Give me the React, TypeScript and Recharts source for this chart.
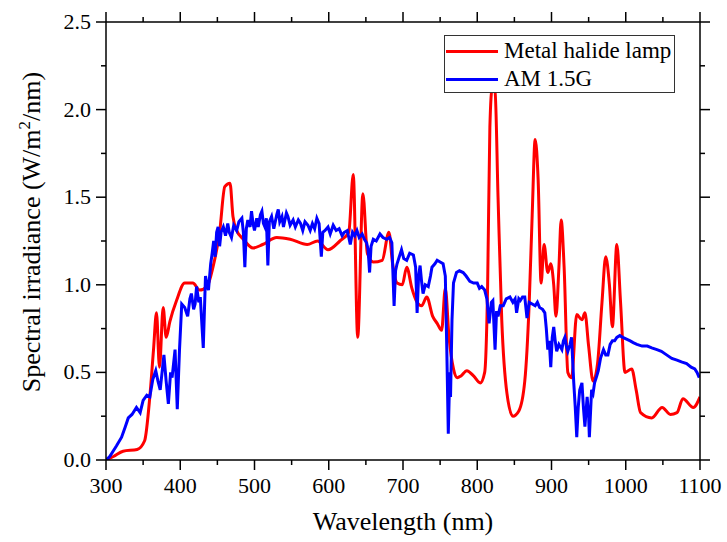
import { LineChart, Line, XAxis, YAxis, Legend } from 'recharts'

const FONT = "'Liberation Serif', 'Times New Roman', Times, serif"
const RED = '#ff0000'
const BLUE = '#0000ff'

// metal halide lamp spectrum: [wavelength nm, irradiance W/m2/nm]
const lampSpectrum: [number, number][] = [
  [300, 0], [305, 0.01], [310, 0.02], [323, 0.05], [342, 0.06], [352, 0.11], [359, 0.36], [364, 0.63],
  [368, 0.84], [372, 0.53], [377, 0.87], [381, 0.7], [386, 0.79], [395, 0.91], [406, 1.01], [417, 1.01],
  [426, 0.97], [436, 0.99], [444, 1.1], [453, 1.3], [460, 1.56], [467, 1.58], [471, 1.39], [476, 1.31],
  [485, 1.26], [498, 1.21], [511, 1.23], [530, 1.27], [548, 1.26], [571, 1.23], [585, 1.25], [599, 1.2],
  [615, 1.25], [627, 1.3], [633, 1.63], [639, 0.7], [646, 1.52], [652, 1.18], [660, 1.13], [672, 1.14],
  [681, 1.3], [686, 1.12], [692, 1.01], [699, 1.0], [705, 1.1], [712, 0.98], [719, 0.9], [725, 0.88],
  [732, 0.93], [740, 0.82], [746, 0.78], [752, 0.74], [757, 0.98], [762, 0.7], [768, 0.52], [773, 0.47],
  [778, 0.48], [786, 0.51], [795, 0.48], [804, 0.44], [810, 0.5], [814, 1.0], [817, 1.9], [820, 2.12],
  [824, 2.1], [828, 1.5], [833, 0.8], [840, 0.38], [848, 0.25], [856, 0.28], [864, 0.45], [870, 0.9],
  [874, 1.4], [878, 1.83], [882, 1.6], [886, 1.01], [890, 1.23], [895, 1.07], [899, 1.12], [903, 1.0],
  [906, 0.82], [910, 1.1], [913, 1.37], [917, 1.1], [922, 0.5], [927, 0.47], [934, 0.83], [941, 0.8],
  [945, 0.84], [950, 0.65], [956, 0.45], [962, 0.55], [968, 0.9], [973, 1.16], [978, 1.0], [982, 0.76],
  [988, 1.23], [993, 0.9], [999, 0.5], [1008, 0.52], [1014, 0.4], [1020, 0.27], [1035, 0.24], [1049, 0.3],
  [1060, 0.26], [1069, 0.27], [1077, 0.35], [1091, 0.3], [1100, 0.36],
]

// AM 1.5G reference solar spectrum
const sunSpectrum: [number, number][] = [
  [300, 0], [305, 0.02], [314, 0.08], [321, 0.13], [326, 0.19], [330, 0.24], [335, 0.26], [341, 0.3],
  [346, 0.27], [350, 0.34], [355, 0.37], [359, 0.36], [363, 0.46], [367, 0.51], [370, 0.45], [373, 0.4],
  [378, 0.6], [381, 0.45], [384, 0.32], [387, 0.5], [389, 0.47], [393, 0.63], [396, 0.29], [399, 0.63],
  [402, 0.89], [406, 0.87], [410, 0.82], [413, 0.92], [415, 0.95], [418, 0.86], [420, 0.89], [422, 0.99],
  [425, 0.9], [427, 0.93], [431, 0.64], [434, 1.05], [436, 1.0], [438, 0.97], [441, 1.12], [443, 1.18],
  [445, 1.25], [447, 1.16], [449, 1.3], [451, 1.33], [453, 1.22], [455, 1.3], [458, 1.33], [461, 1.28],
  [464, 1.35], [466, 1.3], [469, 1.27], [472, 1.34], [476, 1.31], [479, 1.36], [483, 1.38], [485, 1.3],
  [487, 1.1], [489, 1.32], [491, 1.37], [494, 1.33], [496, 1.42], [498, 1.35], [500, 1.31], [503, 1.38],
  [505, 1.33], [508, 1.4], [510, 1.42], [512, 1.35], [514, 1.33], [516, 1.38], [518, 1.11], [520, 1.36],
  [523, 1.39], [526, 1.32], [528, 1.36], [530, 1.4], [532, 1.43], [534, 1.36], [537, 1.39], [539, 1.33],
  [541, 1.37], [543, 1.41], [545, 1.39], [548, 1.34], [552, 1.37], [555, 1.33], [559, 1.37], [562, 1.35],
  [565, 1.31], [568, 1.36], [572, 1.34], [575, 1.31], [578, 1.35], [581, 1.32], [584, 1.38], [587, 1.35],
  [590, 1.16], [592, 1.3], [595, 1.31], [599, 1.33], [602, 1.29], [606, 1.34], [610, 1.31], [614, 1.32],
  [618, 1.28], [621, 1.3], [625, 1.31], [627, 1.27], [629, 1.23], [632, 1.3], [635, 1.28], [638, 1.31],
  [641, 1.27], [645, 1.29], [648, 1.26], [651, 1.24], [653, 1.2], [655, 1.07], [657, 1.22], [660, 1.26],
  [664, 1.25], [669, 1.29], [673, 1.27], [678, 1.26], [682, 1.27], [685, 1.24], [688, 0.88], [690, 1.08],
  [692, 1.12], [695, 1.16], [698, 1.2], [701, 1.15], [705, 1.14], [709, 1.18], [714, 1.17], [717, 1.1],
  [719, 0.84], [721, 1.05], [723, 1.11], [725, 1.02], [727, 0.95], [730, 1.0], [734, 0.99], [737, 1.05],
  [739, 1.1], [743, 1.12], [746, 1.14], [750, 1.13], [754, 1.12], [757, 1.05], [759, 0.63], [761, 0.15],
  [763, 0.5], [764, 0.36], [766, 0.8], [768, 1.01], [772, 1.07], [776, 1.08], [781, 1.07], [785, 1.05],
  [790, 1.02], [795, 1.01], [800, 1.01], [803, 0.98], [806, 0.99], [810, 0.97], [813, 0.92], [816, 0.78],
  [819, 0.9], [821, 0.91], [824, 0.63], [826, 0.85], [828, 0.82], [831, 0.88], [835, 0.88], [839, 0.92],
  [844, 0.93], [848, 0.9], [851, 0.92], [853, 0.84], [856, 0.92], [858, 0.91], [861, 0.93], [864, 0.93],
  [867, 0.81], [870, 0.9], [874, 0.89], [878, 0.88], [881, 0.9], [884, 0.87], [888, 0.86], [891, 0.84],
  [893, 0.75], [895, 0.63], [897, 0.68], [899, 0.53], [901, 0.7], [903, 0.76], [905, 0.68], [907, 0.62],
  [910, 0.66], [914, 0.63], [916, 0.68], [918, 0.7], [920, 0.65], [922, 0.62], [925, 0.66], [927, 0.7],
  [930, 0.44], [932, 0.3], [934, 0.13], [936, 0.3], [938, 0.4], [941, 0.44], [943, 0.3], [945, 0.19],
  [948, 0.36], [950, 0.25], [951, 0.13], [954, 0.4], [956, 0.38], [958, 0.44], [961, 0.48], [963, 0.51],
  [966, 0.58], [970, 0.63], [973, 0.6], [976, 0.6], [979, 0.66], [982, 0.68], [985, 0.68], [988, 0.7],
  [992, 0.71], [996, 0.7], [1001, 0.69], [1006, 0.68], [1010, 0.67], [1015, 0.66], [1022, 0.65], [1029, 0.65],
  [1035, 0.64], [1042, 0.63], [1048, 0.62], [1055, 0.6], [1062, 0.58], [1069, 0.57], [1075, 0.56], [1082, 0.55],
  [1088, 0.53], [1093, 0.52], [1096, 0.5], [1099, 0.47],
]

const seriesNames = ['Metal halide lamp', 'AM 1.5G']
const seriesColors = [RED, BLUE]

const xTicks = [300, 350, 400, 450, 500, 550, 600, 650, 700, 750, 800, 850, 900, 950, 1000, 1050, 1100]
const yTicks = [0, 0.25, 0.5, 0.75, 1, 1.25, 1.5, 1.75, 2, 2.25, 2.5]

const lampData = lampSpectrum.map(([nm, v]) => ({ nm, v }))
const sunData = sunSpectrum.map(([nm, v]) => ({ nm, v }))

const isMajorX = (v: number) => v % 100 === 0
const isMajorY = (v: number) => Math.abs(v * 2 - Math.round(v * 2)) < 1e-9

const textStyle = { fontFamily: FONT, fill: '#000' }

function BottomTick({ x, y, payload }: any) {
  const major = isMajorX(payload.value)
  return (
    <g>
      <line x1={x} y1={y} x2={x} y2={y + (major ? 10 : 5)} stroke="#000" strokeWidth={1.5} />
      {major && (
        <text x={x} y={y + 33} textAnchor="middle" style={{ ...textStyle, fontSize: 22 }}>
          {payload.value}
        </text>
      )}
    </g>
  )
}

function TopTick({ x, y, payload }: any) {
  const major = isMajorX(payload.value)
  return <line x1={x} y1={y} x2={x} y2={y - (major ? 10 : 5)} stroke="#000" strokeWidth={1.5} />
}

function LeftTick({ x, y, payload }: any) {
  const major = isMajorY(payload.value)
  return (
    <g>
      <line x1={x} y1={y} x2={x - (major ? 10 : 5)} y2={y} stroke="#000" strokeWidth={1.5} />
      {major && (
        <text x={x - 15} y={y + 7} textAnchor="end" style={{ ...textStyle, fontSize: 22 }}>
          {payload.value.toFixed(1)}
        </text>
      )}
    </g>
  )
}

function RightTick({ x, y, payload }: any) {
  const major = isMajorY(payload.value)
  return <line x1={x} y1={y} x2={x + (major ? 10 : 5)} y2={y} stroke="#000" strokeWidth={1.5} />
}

const xTitle = () => (
  <text x={403} y={530} textAnchor="middle" style={{ ...textStyle, fontSize: 26 }}>
    Wavelength (nm)
  </text>
)

const yTitle = () => (
  <text transform="translate(40, 232) rotate(-90)" textAnchor="middle" style={{ ...textStyle, fontSize: 26 }}>
    Spectral irradiance (W/m
    <tspan dy={-10} style={{ fontSize: 17 }}>2</tspan>
    <tspan dy={10}>/nm)</tspan>
  </text>
)

function LegendBox() {
  return (
    <div
      style={{
        width: 231,
        height: 58,
        boxSizing: 'border-box',
        border: '1px solid #333',
        background: '#fff',
        fontFamily: FONT,
        fontSize: 23,
        color: '#000',
        paddingTop: 1,
      }}
    >
      {seriesNames.map((name, i) => (
        <div key={name} style={{ display: 'flex', alignItems: 'center', height: 28 }}>
          <div style={{ width: 52, height: 3, background: seriesColors[i], marginLeft: 1, marginRight: 6 }} />
          <span style={{ lineHeight: '28px', whiteSpace: 'nowrap' }}>{name}</span>
        </div>
      ))}
    </div>
  )
}

export default function App() {
  return (
    <div style={{ position: 'absolute', left: 0, top: 0, background: '#fff' }}>
      <LineChart width={727} height={542} margin={{ top: 21, right: 26, bottom: 81, left: 105 }}>
        <XAxis
          type="number"
          dataKey="nm"
          domain={[300, 1100]}
          ticks={xTicks}
          interval={0}
          height={1}
          tickSize={0}
          tickMargin={0}
          tickLine={false}
          tick={<BottomTick />}
          axisLine={{ stroke: '#000', strokeWidth: 1.5 }}
          allowDataOverflow
          label={xTitle}
        />
        <XAxis
          xAxisId="top"
          orientation="top"
          type="number"
          dataKey="nm"
          domain={[300, 1100]}
          ticks={xTicks}
          interval={0}
          height={1}
          tickSize={0}
          tickMargin={0}
          tickLine={false}
          tick={<TopTick />}
          axisLine={{ stroke: '#000', strokeWidth: 1.5 }}
          allowDataOverflow
        />
        <YAxis
          type="number"
          domain={[0, 2.5]}
          ticks={yTicks}
          interval={0}
          width={1}
          tickSize={0}
          tickMargin={0}
          tickLine={false}
          tick={<LeftTick />}
          axisLine={{ stroke: '#000', strokeWidth: 1.5 }}
          allowDataOverflow
          label={yTitle}
        />
        <YAxis
          yAxisId="right"
          orientation="right"
          type="number"
          domain={[0, 2.5]}
          ticks={yTicks}
          interval={0}
          width={1}
          tickSize={0}
          tickMargin={0}
          tickLine={false}
          tick={<RightTick />}
          axisLine={{ stroke: '#000', strokeWidth: 1.5 }}
          allowDataOverflow
        />
        <Legend
          layout="horizontal"
          verticalAlign="middle"
          align="center"
          content={<LegendBox />}
          wrapperStyle={{ left: 444, top: 35, width: 231, height: 58 }}
        />
        <Line
          data={lampData}
          dataKey="v"
          name={seriesNames[0]}
          type="monotone"
          stroke={RED}
          strokeWidth={3}
          dot={false}
          isAnimationActive={false}
        />
        <Line
          data={sunData}
          dataKey="v"
          name={seriesNames[1]}
          type="linear"
          stroke={BLUE}
          strokeWidth={3}
          dot={false}
          isAnimationActive={false}
        />
      </LineChart>
    </div>
  )
}
